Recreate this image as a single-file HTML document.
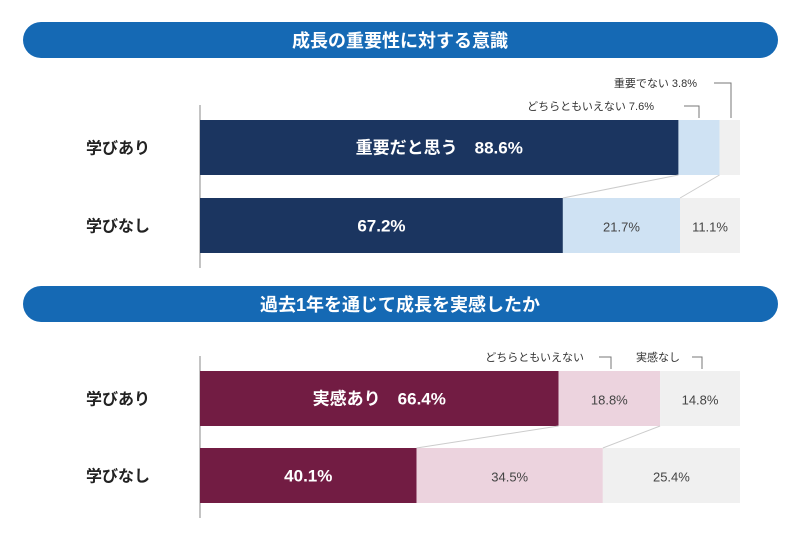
<!DOCTYPE html>
<html><head><meta charset="utf-8"><style>
body{margin:0;background:#fff;width:792px;height:538px;overflow:hidden}
svg text{font-family:"Liberation Sans","Noto Sans CJK JP",sans-serif}
</style></head><body>
<svg id="c" width="792" height="538" xmlns="http://www.w3.org/2000/svg">
<rect x="23" y="22" width="755" height="36" rx="18" fill="#1569b4"/>
<text x="400" y="47" text-anchor="middle" fill="#fff" font-size="18" font-weight="bold">成長の重要性に対する意識</text>
<rect x="23" y="286" width="755" height="36" rx="18" fill="#1569b4"/>
<text x="400" y="311" text-anchor="middle" fill="#fff" font-size="18" font-weight="bold">過去1年を通じて成長を実感したか</text>
<g id="g"></g>
</svg>
<script>
const rows = ["学びあり", "学びなし"];
const topValues = [[88.6, 7.6, 3.8], [67.2, 21.7, 11.1]];
const botValues = [[66.4, 18.8, 14.8], [40.1, 34.5, 25.4]];
const topColors = ["#1b3560", "#cfe2f3", "#f0f0f0"];
const botColors = ["#721c43", "#ecd3de", "#f0f0f0"];
const X0 = 200, W = 540;
const xs = v => X0 + v / 100 * W;
const NS = "http://www.w3.org/2000/svg";
const g = document.getElementById("g");
function mk(t, a, txt){const e=document.createElementNS(NS,t);for(const k in a)e.setAttribute(k,a[k]);if(txt!=null)e.textContent=txt;g.appendChild(e);return e;}
function chart(vals, colors, y0, y1, h, firstLabel, key){
  const ys=[y0,y1];
  mk("line",{x1:200,y1:y0-15,x2:200,y2:y1+h+15,stroke:"#888","stroke-width":1});
  vals.forEach((r,i)=>{
    const lab=mk("text",{x:118,y:ys[i]+h/2+6,"text-anchor":"middle","font-size":16,"font-weight":"bold",fill:"#222"},rows[i]);
    
    
    let c=0;
    r.forEach((v,j)=>{
      const b=mk("rect",{x:xs(c),y:ys[i],width:xs(c+v)-xs(c),height:h,fill:colors[j]});
      
      
      if(!(i===0&&j>0&&key==="importance")){
        let s=v.toFixed(1)+"%";
        if(i===0&&j===0) s=firstLabel+"　"+s;
        const t=mk("text",{x:(xs(c)+xs(c+v))/2,y:ys[i]+h/2+6,"text-anchor":"middle","font-size":j===0?17:13,"font-weight":j===0?"bold":"normal",fill:j===0?"#fff":"#444"},s);
        
        
      }
      c+=v;
    });
  });
  let a=0,b=0;
  for(let j=0;j<2;j++){
    a+=vals[0][j];b+=vals[1][j];
    const l=mk("line",{x1:xs(a),y1:y0+h,x2:xs(b),y2:y1,stroke:"#ccc","stroke-width":1});
    
    
  }
}
chart(topValues, topColors, 120, 198, 55, "重要だと思う", "importance");
chart(botValues, botColors, 371, 448, 55, "実感あり", "growth");
// callouts top
function callout(txt, tx, ty, bx1, bx2, by2){
  const t=mk("text",{x:tx,y:ty,"text-anchor":"end","font-size":11,fill:"#333"},txt);
  
  
  const p=mk("polyline",{points:bx1+","+(ty-4)+" "+bx2+","+(ty-4)+" "+bx2+","+by2,fill:"none",stroke:"#777","stroke-width":1});
  
  
}
callout("重要でない 3.8%", 697, 87, 714, 731, 118);
callout("どちらともいえない 7.6%", 654, 110, 684, 699, 118);
callout("どちらともいえない", 584, 361, 599, 611, 369);
callout("実感なし", 680, 361, 692, 702, 369);
</script>
</body></html>
